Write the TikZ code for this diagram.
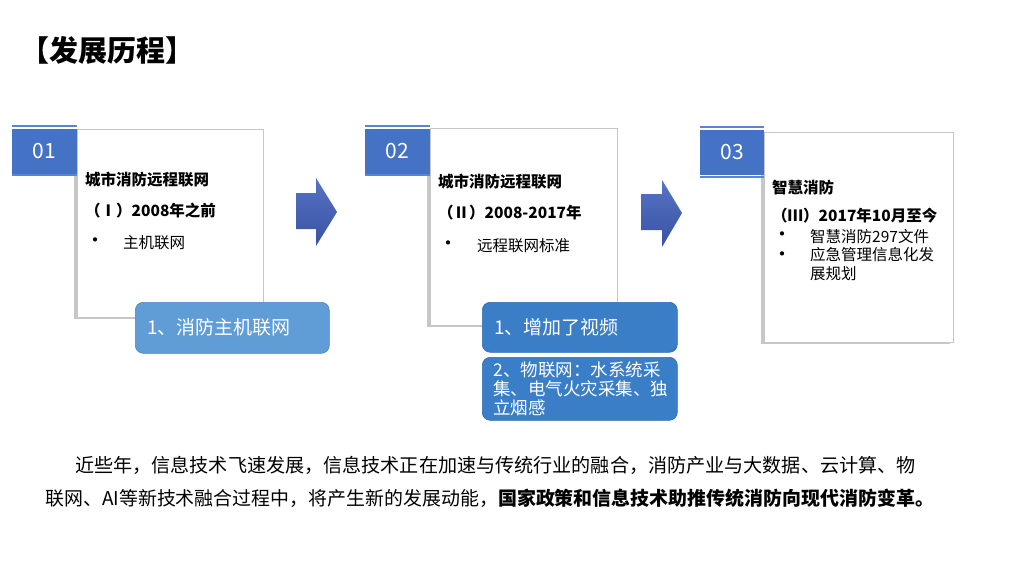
\documentclass[tikz,border=0pt]{standalone}
\usepackage{fontspec}
\setmainfont{Noto Sans CJK SC}
\usetikzlibrary{shadows}
\definecolor{tabblue}{HTML}{4472C4}
\definecolor{tabline}{HTML}{5A85D0}
\definecolor{boxlight}{HTML}{609DD6}
\definecolor{boxlightdraw}{HTML}{4A86C4}
\definecolor{boxdark}{HTML}{3A7EC8}
\definecolor{boxdarkdraw}{HTML}{2F6BB0}
\definecolor{arrtop}{HTML}{5673C4}
\definecolor{arrbot}{HTML}{3A52A2}
\tikzset{
  tabbox/.style={fill=tabblue, draw=none, text=white, inner sep=0pt, outer sep=0pt,
    anchor=north west, font=\fontsize{21}{24}\selectfont},
  tabrule/.style={draw=tabline, line width=2pt},
  card/.style={fill=white, draw=gray!45, line width=0.6pt, inner sep=0pt, outer sep=0pt,
    anchor=north west, drop shadow={shadow xshift=-3pt, shadow yshift=-2pt, opacity=0.55, fill=gray!80}},
  headtxt/.style={anchor=west, inner sep=0pt, font=\bfseries\fontsize{15.5}{18}\selectfont},
  bodytxt/.style={anchor=west, inner sep=0pt, font=\fontsize{15.5}{19.5}\selectfont, align=left},
  bul/.style={anchor=west, inner sep=0pt, font=\fontsize{20}{20}\selectfont},
  pillA/.style={fill=boxlight, draw=boxlightdraw, line width=0.6pt, rounded corners=8pt, anchor=north west,
    text=white, inner xsep=12pt, inner ysep=0pt, align=left, font=\fontsize{19}{22}\selectfont},
  pillB/.style={fill=boxdark, draw=boxdarkdraw, line width=0.6pt, rounded corners=8pt, anchor=north west,
    text=white, inner xsep=11pt, inner ysep=0pt, align=left},
  blockarrow/.style={top color=arrtop, bottom color=arrbot, draw=none},
  para/.style={anchor=west, inner sep=0pt}
}
\begin{document}
\begin{tikzpicture}[x=1pt,y=-1pt]
\useasboundingbox (0,0) rectangle (1024,576);
\fill[white] (0,0) rectangle (1024,576);

% title
\node[anchor=west, inner sep=0pt, font=\bfseries\fontsize{29}{32}\selectfont] (title) at (20,50) {【发展历程】};

% ===== panel 1 =====
\node[card, minimum width=186pt, minimum height=188pt] (c1) at (77,129) {};
\draw[tabrule] (12,126) -- (77,126);
\draw[tabrule] (12,175) -- (77,175);
\node[tabbox, minimum width=65pt, minimum height=45pt] (t1) at (12,129) {01};
\node[headtxt] (h1a) at (85,180) {城市消防远程联网};
\node[headtxt] (h1b) at (85,211) {（Ⅰ）2008年之前};
\node[bul] (b1a) at (85,243) {•};
\node[bodytxt] (b1b) at (123,243) {主机联网};
\node[pillA, text width=170pt, minimum height=51pt] (p1) at (135,302) {1、消防主机联网};

% arrow 1
\shade[blockarrow] (296,193) -- (316,193) -- (316,178) -- (337,212) -- (316,246) -- (316,229) -- (296,229) -- cycle;

% ===== panel 2 =====
\node[card, minimum width=187pt, minimum height=197pt] (c2) at (430,128) {};
\draw[tabrule] (365,126) -- (430,126);
\draw[tabrule] (365,175) -- (430,175);
\node[tabbox, minimum width=65pt, minimum height=45pt] (t2) at (365,129) {02};
\node[headtxt] (h2a) at (438,182) {城市消防远程联网};
\node[headtxt] (h2b) at (438,213) {（Ⅱ）2008-2017年};
\node[bul] (b2a) at (438,246) {•};
\node[bodytxt] (b2b) at (477,246) {远程联网标准};
\node[pillA, fill=boxdark, draw=boxdarkdraw, text width=171pt, minimum height=50pt] (p2) at (482,302) {1、增加了视频};
\node[pillB, text width=173pt, minimum height=63pt, font=\fontsize{17.5}{19.3}\selectfont] (p3) at (482,357) {2、物联网：水系统采\\集、电气火灾采集、独\\立烟感};

% arrow 2
\shade[blockarrow] (641,194) -- (662,194) -- (662,180) -- (682,213) -- (662,247) -- (662,230) -- (641,230) -- cycle;

% ===== panel 3 =====
\node[card, minimum width=189pt, minimum height=210pt] (c3) at (764,132) {};
\draw[tabrule] (700,127) -- (764,127);
\draw[tabrule] (700,177) -- (764,177);
\node[tabbox, minimum width=64pt, minimum height=45pt] (t3) at (700,130) {03};
\node[headtxt] (h3a) at (772,188) {智慧消防};
\node[headtxt] (h3b) at (772,216) {（Ⅲ）2017年10月至今};
\node[bul] (b3a) at (772,237) {•};
\node[bodytxt] (b3b) at (810,237) {智慧消防297文件};
\node[bul] (b3c) at (772,257) {•};
\node[bodytxt, anchor=north west] (b3d) at (810,247) {应急管理信息化发\\展规划};

% paragraph
\node[para, font=\fontsize{19.1}{24}\selectfont] (l1) at (75,465) {近些年，信息技术飞速发展，信息技术正在加速与传统行业的融合，消防产业与大数据、云计算、物};
\node[para, font=\fontsize{18.95}{24}\selectfont] (l2) at (45,498) {联网、AI等新技术融合过程中，将产生新的发展动能，\textbf{国家政策和信息技术助推传统消防向现代消防变革。}};
\end{tikzpicture}
\end{document}
